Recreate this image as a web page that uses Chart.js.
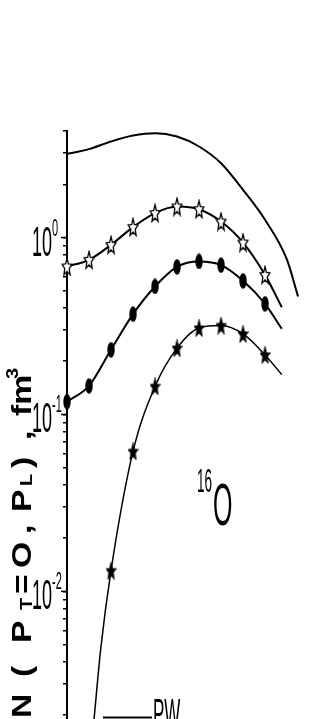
<!DOCTYPE html>
<html lang="en">
<head>
<meta charset="UTF-8">
<title>N(P_T=0, P_L) for 16O</title>
<script src="https://cdn.jsdelivr.net/npm/chart.js"></script>
<style>
    html, body { margin: 0; padding: 0; background: #fff; overflow: hidden; }
    #chart { display: block; }
</style>
</head>
<body>
<canvas id="chart" width="315" height="719"></canvas>
<script>
// x is P_L counted in marker steps, y is N in fm^3
const pwX = [0, 1, 2, 3, 4, 5, 6, 7, 8, 9, 10, 10.5];
const pwY = [2.97, 3.16, 3.49, 3.77, 3.89, 3.72, 3.27, 2.63, 1.86, 1.26, 0.748, 0.464];

const openStarX = [0, 1, 2, 3, 4, 5, 6, 7, 8, 9, 9.76];
const openStarY = [0.686, 0.748, 0.909, 1.145, 1.374, 1.497, 1.446, 1.231, 0.937, 0.615, 0.404];

const dotX = [0, 1, 2, 3, 4, 5, 6, 7, 8, 9, 9.76];
const dotY = [0.118, 0.145, 0.232, 0.369, 0.529, 0.683, 0.732, 0.698, 0.569, 0.422, 0.305];

const fullStarX = [1.23, 1.53, 2, 3, 4, 5, 6, 7, 8, 9, 9.76];
const fullStarY = [0.0019, 0.0047, 0.0131, 0.0618, 0.144, 0.237, 0.308, 0.318, 0.285, 0.217, 0.168];

// y axis
const yMin = 0.0019;
const yMax = 4;
const yTickValues = [
    0.002, 0.003, 0.004, 0.005, 0.006, 0.007, 0.008, 0.009,
    0.01, 0.02, 0.03, 0.04, 0.05, 0.06, 0.07, 0.08, 0.09,
    0.1, 0.2, 0.3, 0.4, 0.5, 0.6, 0.7, 0.8, 0.9,
    1, 2, 3, 4
];
const decadeTicks = [1, 0.1, 0.01];
const decadeExp = ['0', '-1', '-2'];

// y title pieces: text, 0 normal / 1 sub / 2 sup, where the piece starts (page y)
const yTitle = [
    ['N', 0, 718], ['(', 0, 677], ['P', 0, 643], ['T', 1, 610], ['=', 0, 594],
    ['O', 0, 568], [',', 0, 534], ['P', 0, 512], ['L', 1, 486], [')', 0, 468],
    [',', 0, 440], ['fm', 0, 416], ['3', 2, 379]
];
const nucleus = ['16', 'O'];
const legendText = 'PW';

const FONT = '"Liberation Sans", Arial, sans-serif';

// marker pictures (stretched tall like the printed figure)
function starImage(fill, w, h) {
    const c = document.createElement('canvas');
    c.width = w; c.height = h;
    const g = c.getContext('2d');
    const rx = w / 2 - 0.8, ry = h / 2 - 0.8;
    g.beginPath();
    for (let i = 0; i < 10; i++) {
        const a = -Math.PI / 2 + i * Math.PI / 5;
        const r = i % 2 ? 0.45 : 1;
        g.lineTo(w / 2 + Math.cos(a) * rx * r, h / 2 + 0.8 + Math.sin(a) * ry * r);
    }
    g.closePath();
    g.fillStyle = fill;
    g.fill();
    g.lineWidth = 1.3;
    g.strokeStyle = '#000';
    g.stroke();
    return c;
}

function dotImage(w, h) {
    const c = document.createElement('canvas');
    c.width = w; c.height = h;
    const g = c.getContext('2d');
    g.beginPath();
    g.ellipse(w / 2, h / 2, w / 2 - 0.3, h / 2 - 0.3, 0, 0, Math.PI * 2);
    g.fillStyle = '#000';
    g.fill();
    return c;
}

const openStar = starImage('#fff', 12, 20);
const fullStar = starImage('#000', 11, 18);
const dot = dotImage(8, 16);

function series(xs, ys, marker, width) {
    return {
        data: xs.map((x, i) => ({ x: x, y: ys[i] })),
        borderColor: '#000',
        borderWidth: width,
        cubicInterpolationMode: 'monotone',
        pointStyle: marker || false,
        pointRadius: marker ? xs.map(x => Number.isInteger(x) ? 5 : 0) : 0,
        pointHoverRadius: 0,
        fill: false,
        clip: false
    };
}

function stretched(g, text, size, sy, x, y, align, weight) {
    g.save();
    g.translate(x, y);
    g.scale(1, sy);
    g.font = (weight || 'normal') + ' ' + size + 'px ' + FONT;
    g.textAlign = align;
    g.textBaseline = 'alphabetic';
    g.fillText(text, 0, 0);
    g.restore();
}

const annotate = {
    id: 'annotate',
    afterDraw(chart) {
        const g = chart.ctx;
        const y = chart.scales.y;
        const left = chart.chartArea.left;
        g.save();
        g.fillStyle = '#000';
        g.strokeStyle = '#000';

        // decade marks and labels
        decadeTicks.forEach((v, i) => {
            const py = y.getPixelForValue(v);
            g.lineWidth = 1.5;
            g.beginPath();
            g.moveTo(left - 6, py);
            g.lineTo(left, py);
            g.stroke();
            stretched(g, '10', 18, 2.4, left - 15, py + 18, 'right');
            stretched(g, decadeExp[i], 11, 2.1, left - 15, py - 2, 'left');
        });

        // y title, reading upwards
        const sizes = [27, 16, 16];
        const shifts = [0, 1, -13];
        yTitle.forEach(([t, k, start]) => {
            g.save();
            g.translate(31 + shifts[k], start);
            g.rotate(-Math.PI / 2);
            g.scale(1.25, 1);
            g.font = 'bold ' + sizes[k] + 'px ' + FONT;
            g.textAlign = 'left';
            g.textBaseline = 'alphabetic';
            g.fillText(t, 0, 0);
            g.restore();
        });

        // nucleus label
        stretched(g, nucleus[0], 13.5, 2.5, 197, 492, 'left');
        stretched(g, nucleus[1], 25, 2.35, 213, 525, 'left');

        // legend
        g.lineWidth = 2;
        g.beginPath();
        g.moveTo(103, 717.5);
        g.lineTo(152, 717.5);
        g.stroke();
        stretched(g, legendText, 17, 2.4, 153, 727, 'left');

        g.restore();
    }
};

new Chart(document.getElementById('chart'), {
    type: 'line',
    data: {
        datasets: [
            series(pwX, pwY, null, 2),
            series(openStarX, openStarY, openStar, 2),
            series(dotX, dotY, dot, 2),
            series(fullStarX, fullStarY, fullStar, 1.5)
        ]
    },
    options: {
        responsive: false,
        animation: false,
        devicePixelRatio: 1,
        layout: { autoPadding: false, padding: { top: 131, left: 63, right: 0, bottom: 0 } },
        plugins: {
            legend: { display: false },
            tooltip: { enabled: false }
        },
        scales: {
            x: { type: 'linear', display: false, min: 0, max: 11.27 },
            y: {
                type: 'logarithmic',
                min: yMin,
                max: yMax,
                border: { display: true, color: '#000', width: 2 },
                grid: { drawOnChartArea: false, drawTicks: true, tickLength: 4, color: '#000', lineWidth: 1.5 },
                ticks: { display: false },
                afterBuildTicks: scale => {
                    scale.ticks = yTickValues.map(v => ({ value: v }));
                }
            }
        }
    },
    plugins: [annotate]
});
</script>
</body>
</html>
